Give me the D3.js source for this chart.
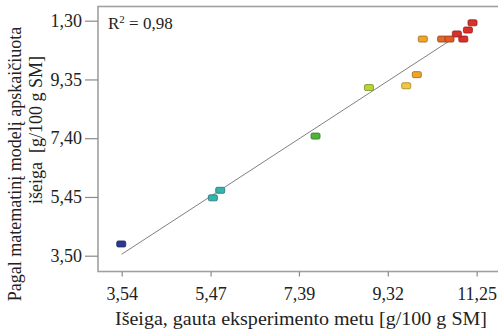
<!DOCTYPE html>
<html>
<head>
<meta charset="utf-8">
<script src="https://cdn.jsdelivr.net/npm/d3@7"></script>
<style>
  html, body { margin: 0; padding: 0; background: #fff; }
  svg { display: block; }
  text { font-family: "Liberation Serif", "Times New Roman", serif; fill: #222; }
</style>
</head>
<body>
<svg id="chart" width="498" height="331"></svg>
<script>
// Experimental yield (x) vs. model-predicted yield (y), g/100 g SM
const experimental = [3.53, 5.52, 5.68, 7.75, 8.91, 9.72, 9.95, 10.08, 10.50, 10.66, 10.96, 10.82, 11.06, 11.16];
const predicted    = [3.89, 5.42, 5.67, 7.47, 9.08, 9.14, 9.51, 10.69, 10.69, 10.69, 10.69, 10.86, 10.99, 11.23];
const pointColors  = ["#2b3990", "#35b3ad", "#35b3ad", "#4fb33a", "#b6d631", "#f2c83a", "#f0a42a",
                      "#f0a42a", "#e0682a", "#e35a22", "#d9302a", "#d9302a", "#d9302a", "#d9302a"];

const xTickValues = [3.54, 5.47, 7.39, 9.32, 11.25];
const xTickLabels = ["3,54", "5,47", "7,39", "9,32", "11,25"];
const yTickValues = [3.50, 5.45, 7.40, 9.35, 11.30];
const yTickLabels = ["3,50", "5,45", "7,40", "9,35", "1,30"];

// Fitted trend line end points
const trendX = [3.54, 10.63];
const trendY = [3.55, 10.60];

const r2Label = "0,98";

const svg = d3.select("#chart");
const plot = { left: 98, right: 500, top: 6.5, bottom: 271.5 };

const x = d3.scaleLinear().domain([3.025, 11.757]).range([plot.left, plot.right]);
const y = d3.scaleLinear().domain([2.976, 11.771]).range([plot.bottom, plot.top]);

// Frame
svg.append("rect")
  .attr("x", plot.left).attr("y", plot.top)
  .attr("width", plot.right - plot.left).attr("height", plot.bottom - plot.top)
  .attr("fill", "none").attr("stroke", "#a0a0a0").attr("stroke-width", 1.6);

// Axes
const xAxis = d3.axisBottom(x).tickValues(xTickValues)
  .tickFormat((d, i) => xTickLabels[i]).tickSize(5).tickPadding(11);
const yAxis = d3.axisLeft(y).tickValues(yTickValues)
  .tickFormat((d, i) => yTickLabels[i]).tickSize(13).tickPadding(3);

const gx = svg.append("g").attr("transform", `translate(0,${plot.bottom})`).call(xAxis);
const gy = svg.append("g").attr("transform", `translate(${plot.left},0)`).call(yAxis);
[gx, gy].forEach(g => {
  g.select(".domain").remove();
  g.selectAll(".tick line").attr("stroke", "#8a8a8a").attr("stroke-width", 1.2);
  g.selectAll(".tick text")
    .attr("font-family", "Liberation Serif, serif")
    .attr("font-size", 18).attr("fill", "#222");
});

// Trend line
svg.append("line")
  .attr("x1", x(trendX[0])).attr("y1", y(trendY[0]))
  .attr("x2", x(trendX[1])).attr("y2", y(trendY[1]))
  .attr("stroke", "#808080").attr("stroke-width", 1);

// Points
const pts = experimental.map((v, i) => ({ x: v, y: predicted[i], c: pointColors[i] }));
svg.append("g").selectAll("rect").data(pts).join("rect")
  .attr("x", d => x(d.x) - 4.5).attr("y", d => y(d.y) - 3)
  .attr("width", 9).attr("height", 6).attr("rx", 1.5)
  .attr("fill", d => d.c)
  .attr("stroke", d => d3.color(d.c).darker(1.2)).attr("stroke-width", 0.8);

// R² annotation
const r2 = svg.append("text").attr("x", 108).attr("y", 29).attr("font-size", 17);
r2.append("tspan").text("R");
r2.append("tspan").attr("font-size", 11).attr("dy", -6).text("2");
r2.append("tspan").attr("dy", 6).text(" = " + r2Label);

// Axis titles
svg.append("text")
  .attr("x", 301).attr("y", 325).attr("text-anchor", "middle").attr("font-size", 18)
  .attr("textLength", 372).attr("lengthAdjust", "spacingAndGlyphs")
  .text("Išeiga, gauta eksperimento metu [g/100 g SM]");

svg.append("text")
  .attr("transform", "translate(21,164) rotate(-90)")
  .attr("text-anchor", "middle").attr("font-size", 18)
  .text("Pagal matematinį modelį apskaičiuota");
svg.append("text")
  .attr("transform", "translate(42,130) rotate(-90)")
  .attr("text-anchor", "middle").attr("font-size", 18)
  .text("išeiga\u00a0\u00a0[g/100 g SM]");
</script>
</body>
</html>
